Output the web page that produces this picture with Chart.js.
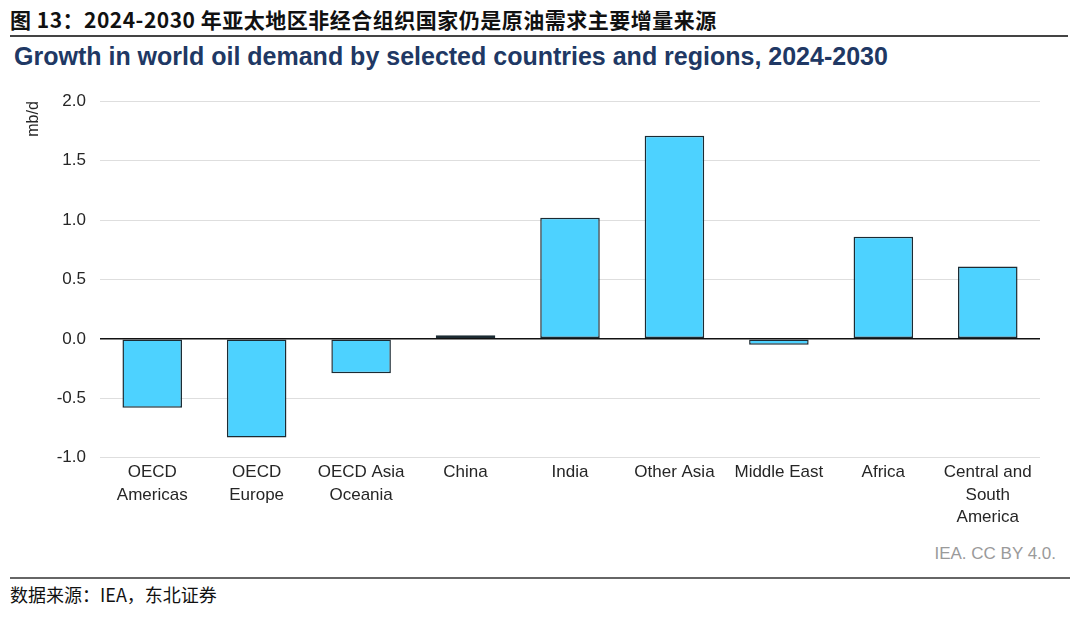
<!DOCTYPE html>
<html>
<head>
<meta charset="utf-8">
<script src="https://cdn.jsdelivr.net/npm/chart.js@4"></script>
<style>
  body { margin: 0; width: 1080px; height: 625px; background: #fff; position: relative; overflow: hidden; }
  #header { position: absolute; left: 10px; top: 4px; font: bold 21px "Noto Sans CJK SC", serif; color: #111; letter-spacing: 0.5px; }
  #header-line { position: absolute; left: 10px; top: 35px; width: 1058px; height: 2px; background: #444; }
  #title { position: absolute; left: 14px; top: 42px; font: bold 25px "Liberation Sans", Arial, sans-serif; color: #203864; }
  #chart-box { position: absolute; left: 0; top: 77px; width: 1080px; height: 454px; }
  #credit { position: absolute; right: 24px; top: 544px; font: 17px "Liberation Sans", Arial, sans-serif; color: #9a9a9a; }
  #footer-line { position: absolute; left: 10px; top: 577px; width: 1060px; height: 2px; background: #666; }
  #source { position: absolute; left: 10px; top: 581px; font: 18px "Noto Sans CJK SC", serif; color: #111; }
</style>
</head>
<body>
<div id="header">图 13：2024-2030 年亚太地区非经合组织国家仍是原油需求主要增量来源</div>
<div id="header-line"></div>
<div id="title">Growth in world oil demand by selected countries and regions, 2024-2030</div>
<div id="chart-box"><canvas id="chart"></canvas></div>
<div id="credit">IEA. CC BY 4.0.</div>
<div id="footer-line"></div>
<div id="source">数据来源：IEA，东北证券</div>

<script>
// Regions and demand growth, mb/d
const regions = [
  ['OECD', 'Americas'],
  ['OECD', 'Europe'],
  ['OECD Asia', 'Oceania'],
  'China',
  'India',
  'Other Asia',
  'Middle East',
  'Africa',
  ['Central and', 'South', 'America']
];
const demandGrowth = [-0.58, -0.83, -0.29, 0.03, 1.02, 1.71, -0.05, 0.86, 0.61];
const yTicks = [-1.0, -0.5, 0.0, 0.5, 1.0, 1.5, 2.0];

const ctx = document.getElementById('chart').getContext('2d');

new Chart(ctx, {
  type: 'bar',
  data: {
    labels: regions,
    datasets: [{
      label: 'Growth',
      data: demandGrowth,
      backgroundColor: '#4dd2ff',
      borderColor: '#1c2b33',
      borderWidth: 1.5,
      borderSkipped: false,
      categoryPercentage: 1.0,
      barPercentage: 0.57
    }]
  },
  options: {
    responsive: true,
    maintainAspectRatio: false,
    animation: false,
    layout: { padding: { top: 5, right: 40, bottom: 7, left: 0 } },
    plugins: {
      legend: { display: false },
      tooltip: { enabled: false }
    },
    scales: {
      x: {
        grid: { display: false },
        border: { display: false },
        ticks: {
          color: '#262626',
          font: { family: 'Liberation Sans', size: 17, lineHeight: 1.3 },
          padding: -4,
          maxRotation: 0,
          autoSkip: false
        }
      },
      y: {
        min: -1,
        max: 2,
        afterBuildTicks: axis => { axis.ticks = yTicks.map(v => ({ value: v })); },
        afterFit: axis => { axis.width = 100; },
        border: { display: false },
        grid: {
          color: c => c.tick && c.tick.value === 0 ? '#111' : '#dedede',
          lineWidth: c => c.tick && c.tick.value === 0 ? 1.5 : 1,
          drawTicks: false
        },
        ticks: {
          color: '#262626',
          font: { family: 'Liberation Sans', size: 17 },
          padding: 14,
          callback: v => v.toFixed(1)
        },
        title: {
          display: true,
          text: 'mb/d',
          align: 'end',
          color: '#262626',
          font: { family: 'Liberation Sans', size: 16 },
          padding: { top: 24, bottom: 0 }
        }
      }
    }
  }
});
</script>
</body>
</html>
